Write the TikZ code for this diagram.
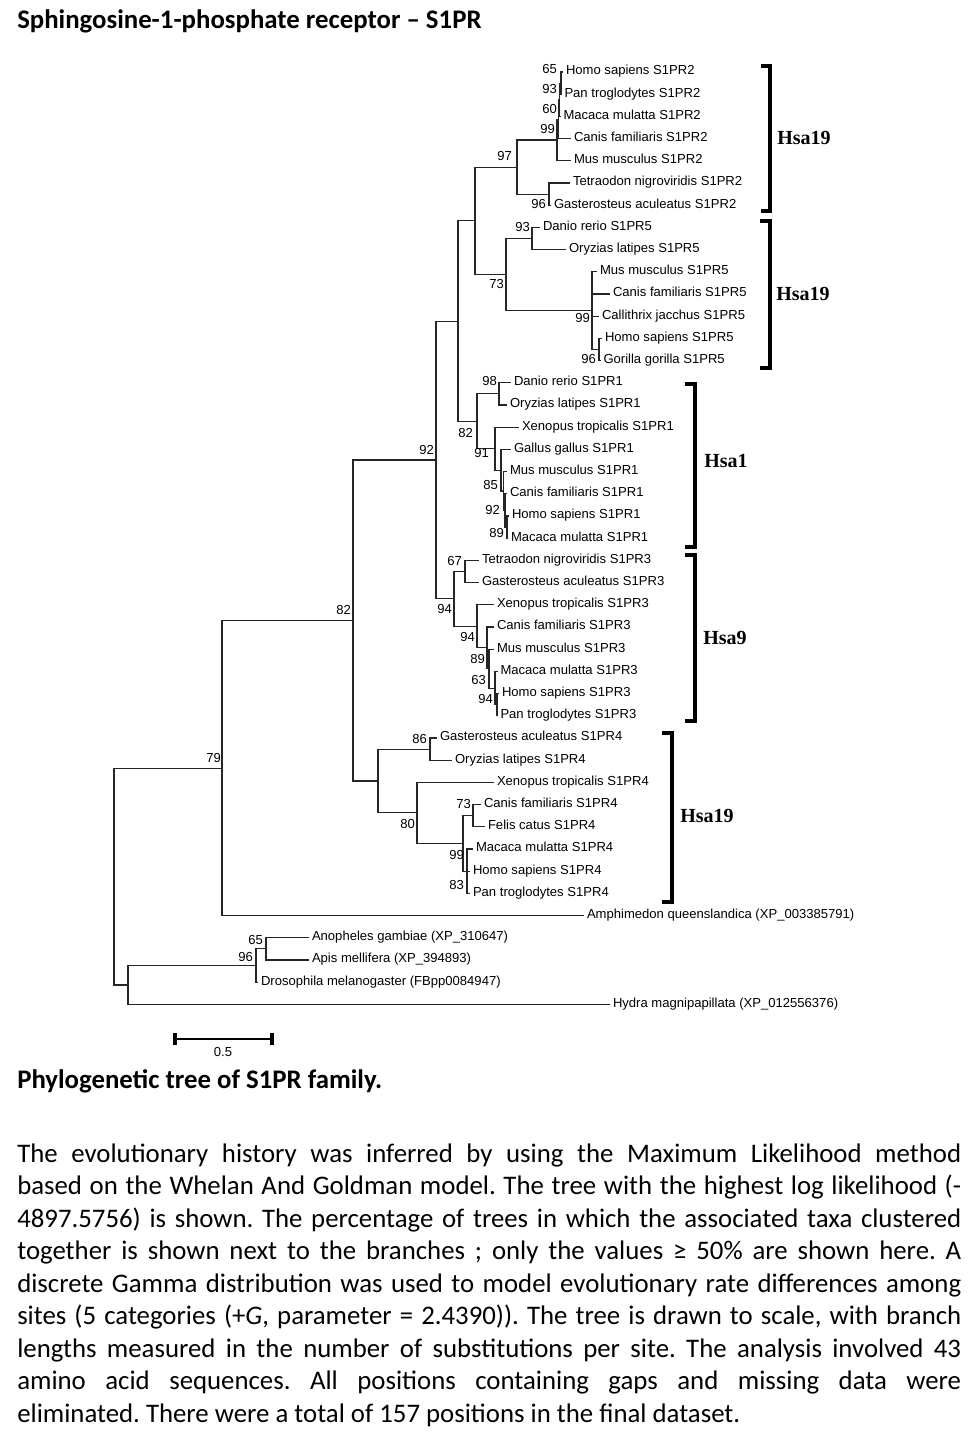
\documentclass[tikz,border=0pt]{standalone}
\usepackage{fontspec}
\setmainfont{Carlito}
\newfontfamily\treefont{Liberation Sans}
\newfontfamily\hsafont{Liberation Serif}
\frenchspacing
\begin{document}
\begin{tikzpicture}[x=0.75pt,y=-0.75pt,
  br/.style={line width=0.8pt, draw=black!85},
  leaf/.style={anchor=west, inner xsep=2.25pt, inner ysep=0pt, outer sep=0pt,
     font=\treefont\fontsize{9.8pt}{11pt}\selectfont, text height=6.8pt, text depth=2.6pt},
  bs/.style={anchor=east, inner sep=0pt, outer sep=0pt,
     font=\treefont\fontsize{9.8pt}{11pt}\selectfont, text height=6.8pt, text depth=2.6pt},
  hsa/.style={anchor=west, inner sep=0pt, font=\hsafont\bfseries\fontsize{15pt}{17pt}\selectfont},
  brk/.style={line width=2.3pt, miter limit=10},
  txt/.style={anchor=base west, inner sep=0pt, font=\fontsize{20.1pt}{24.4pt}\selectfont},
  btxt/.style={txt, font=\bfseries\fontsize{20.1pt}{24.4pt}\selectfont}
]
\fill[white] (0,0) rectangle (978,1447);
\useasboundingbox (0,0) rectangle (978,1447);

% ---------- leaves ----------
\node[leaf] (L1)  at (563,72)     {Homo sapiens S1PR2};
\node[leaf] (L2)  at (561.5,94.2) {Pan troglodytes S1PR2};
\node[leaf] (L3)  at (560.5,116.4){Macaca mulatta S1PR2};
\node[leaf] (L4)  at (571,138.6)  {Canis familiaris S1PR2};
\node[leaf] (L5)  at (571,160.8)  {Mus musculus S1PR2};
\node[leaf] (L6)  at (570,183)    {Tetraodon nigroviridis S1PR2};
\node[leaf] (L7)  at (551,205.2)  {Gasterosteus aculeatus S1PR2};
\node[leaf] (L8)  at (540,227.4)  {Danio rerio S1PR5};
\node[leaf] (L9)  at (566,249.6)  {Oryzias latipes S1PR5};
\node[leaf] (L10) at (597,271.8)  {Mus musculus S1PR5};
\node[leaf] (L11) at (610,294)    {Canis familiaris S1PR5};
\node[leaf] (L12) at (599,316.2)  {Callithrix jacchus S1PR5};
\node[leaf] (L13) at (602,338.4)  {Homo sapiens S1PR5};
\node[leaf] (L14) at (600.5,360.6){Gorilla gorilla S1PR5};
\node[leaf] (L15) at (511,382.8)  {Danio rerio S1PR1};
\node[leaf] (L16) at (507,405)    {Oryzias latipes S1PR1};
\node[leaf] (L17) at (519,427.2)  {Xenopus tropicalis S1PR1};
\node[leaf] (L18) at (511,449.4)  {Gallus gallus S1PR1};
\node[leaf] (L19) at (507,471.6)  {Mus musculus S1PR1};
\node[leaf] (L20) at (507,493.8)  {Canis familiaris S1PR1};
\node[leaf] (L21) at (509,516)    {Homo sapiens S1PR1};
\node[leaf] (L22) at (508,538.2)  {Macaca mulatta S1PR1};
\node[leaf] (L23) at (479,560.4)  {Tetraodon nigroviridis S1PR3};
\node[leaf] (L24) at (479,582.6)  {Gasterosteus aculeatus S1PR3};
\node[leaf] (L25) at (494,604.8)  {Xenopus tropicalis S1PR3};
\node[leaf] (L26) at (494,627)    {Canis familiaris S1PR3};
\node[leaf] (L27) at (494,649.2)  {Mus musculus S1PR3};
\node[leaf] (L28) at (497.5,671.4){Macaca mulatta S1PR3};
\node[leaf] (L29) at (499,693.6)  {Homo sapiens S1PR3};
\node[leaf] (L30) at (497.5,715.8){Pan troglodytes S1PR3};
\node[leaf] (L31) at (437,738)    {Gasterosteus aculeatus S1PR4};
\node[leaf] (L32) at (452,760.2)  {Oryzias latipes S1PR4};
\node[leaf] (L33) at (494,782.4)  {Xenopus tropicalis S1PR4};
\node[leaf] (L34) at (481,804.6)  {Canis familiaris S1PR4};
\node[leaf] (L35) at (485,826.8)  {Felis catus S1PR4};
\node[leaf] (L36) at (473,849)    {Macaca mulatta S1PR4};
\node[leaf] (L37) at (470,871.2)  {Homo sapiens S1PR4};
\node[leaf] (L38) at (470,893.4)  {Pan troglodytes S1PR4};
\node[leaf] (L39) at (584,915.6)  {Amphimedon queenslandica (XP\_003385791)};
\node[leaf] (L40) at (309,937.8)  {Anopheles gambiae (XP\_310647)};
\node[leaf] (L41) at (309,960)    {Apis mellifera (XP\_394893)};
\node[leaf] (L42) at (258,982.2)  {Drosophila melanogaster (FBpp0084947)};
\node[leaf] (L43) at (610,1004.4) {Hydra magnipapillata (XP\_012556376)};

% ---------- internal nodes ----------
\coordinate (n65)  at (561,83.1);
\coordinate (n93)  at (559.5,99.75);
\coordinate (n60)  at (558.5,119.2);
\coordinate (n99)  at (557,140);
\coordinate (n96)  at (549,194.1);
\coordinate (n97)  at (517,167.05);
\coordinate (n93b) at (532,238.5);
\coordinate (n96b) at (599,349.5);
\coordinate (n99b) at (592,310.65);
\coordinate (n73)  at (506,274.6);
\coordinate (n475) at (475,220.8);
\coordinate (n98)  at (499,393.9);
\coordinate (nD)   at (507,527.1);
\coordinate (nC)   at (505,510.45);
\coordinate (nB)   at (503.5,491);
\coordinate (nA)   at (501,470.2);
\coordinate (n91)  at (495,448.7);
\coordinate (n82a) at (477,421.3);
\coordinate (n458) at (458,321.05);
\coordinate (n67)  at (465,571.5);
\coordinate (nG)   at (497,704.7);
\coordinate (nF)   at (495,688.05);
\coordinate (nE)   at (489,668.6);
\coordinate (n89)  at (487,647.8);
\coordinate (n94b) at (477,626.3);
\coordinate (n94a) at (454,598.9);
\coordinate (n92)  at (436,460);
\coordinate (n86)  at (430,749.1);
\coordinate (n73c) at (473,815.7);
\coordinate (n83)  at (467,871.2);
\coordinate (n99c) at (463,843.45);
\coordinate (n80)  at (417,812.9);
\coordinate (n378) at (378,781);
\coordinate (n82)  at (353,620.5);
\coordinate (n79)  at (222,768.05);
\coordinate (n65i) at (266,948.9);
\coordinate (n96i) at (256,965.55);
\coordinate (nI)   at (128,985);
\coordinate (root) at (114,876.5);

% ---------- branches ----------
\draw[br] (n65) |- (L1.west);  \draw[br] (n65) |- (L2.west);
\draw[br] (n93) |- (n65);      \draw[br] (n93) |- (L3.west);
\draw[br] (n60) |- (n93);      \draw[br] (n60) |- (L4.west);
\draw[br] (n99) |- (n60);      \draw[br] (n99) |- (L5.west);
\draw[br] (n96) |- (L6.west);  \draw[br] (n96) |- (L7.west);
\draw[br] (n97) |- (n99);      \draw[br] (n97) |- (n96);
\draw[br] (n93b) |- (L8.west); \draw[br] (n93b) |- (L9.west);
\draw[br] (n96b) |- (L13.west);\draw[br] (n96b) |- (L14.west);
\draw[br] (n99b) |- (L10.west);\draw[br] (n99b) |- (L11.west);
\draw[br] (n99b) |- (L12.west);\draw[br] (n99b) |- (n96b);
\draw[br] (n73) |- (n93b);     \draw[br] (n73) |- (n99b);
\draw[br] (n475) |- (n97);     \draw[br] (n475) |- (n73);
\draw[br] (n98) |- (L15.west); \draw[br] (n98) |- (L16.west);
\draw[br] (nD) |- (L21.west);  \draw[br] (nD) |- (L22.west);
\draw[br] (nC) |- (L20.west);  \draw[br] (nC) |- (nD);
\draw[br] (nB) |- (L19.west);  \draw[br] (nB) |- (nC);
\draw[br] (nA) |- (L18.west);  \draw[br] (nA) |- (nB);
\draw[br] (n91) |- (L17.west); \draw[br] (n91) |- (nA);
\draw[br] (n82a) |- (n98);     \draw[br] (n82a) |- (n91);
\draw[br] (n458) |- (n475);    \draw[br] (n458) |- (n82a);
\draw[br] (n67) |- (L23.west); \draw[br] (n67) |- (L24.west);
\draw[br] (nG) |- (L29.west);  \draw[br] (nG) |- (L30.west);
\draw[br] (nF) |- (L28.west);  \draw[br] (nF) |- (nG);
\draw[br] (nE) |- (L27.west);  \draw[br] (nE) |- (nF);
\draw[br] (n89) |- (L26.west); \draw[br] (n89) |- (nE);
\draw[br] (n94b) |- (L25.west);\draw[br] (n94b) |- (n89);
\draw[br] (n94a) |- (n67);     \draw[br] (n94a) |- (n94b);
\draw[br] (n92) |- (n458);     \draw[br] (n92) |- (n94a);
\draw[br] (n86) |- (L31.west); \draw[br] (n86) |- (L32.west);
\draw[br] (n73c) |- (L34.west);\draw[br] (n73c) |- (L35.west);
\draw[br] (n83) |- (L36.west); \draw[br] (n83) |- (L37.west); \draw[br] (n83) |- (L38.west);
\draw[br] (n99c) |- (n73c);    \draw[br] (n99c) |- (n83);
\draw[br] (n80) |- (L33.west); \draw[br] (n80) |- (n99c);
\draw[br] (n378) |- (n86);     \draw[br] (n378) |- (n80);
\draw[br] (n82) |- (n92);      \draw[br] (n82) |- (n378);
\draw[br] (n79) |- (n82);      \draw[br] (n79) |- (L39.west);
\draw[br] (n65i) |- (L40.west);\draw[br] (n65i) |- (L41.west);
\draw[br] (n96i) |- (n65i);    \draw[br] (n96i) |- (L42.west);
\draw[br] (nI) |- (n96i);      \draw[br] (nI) |- (L43.west);
\draw[br] (root) |- (n79);     \draw[br] (root) |- (nI);

% ---------- bootstrap values ----------
\node[bs] (b1)  at (557,71)  {65};
\node[bs] (b2)  at (557,91)  {93};
\node[bs] (b3)  at (557,111) {60};
\node[bs] (b4)  at (555,131) {99};
\node[bs] (b5)  at (512,158) {97};
\node[bs] (b6)  at (546,206) {96};
\node[bs] (b7)  at (530,229) {93};
\node[bs] (b8)  at (504,286) {73};
\node[bs] (b9)  at (590,320) {99};
\node[bs] (b10) at (596,361) {96};
\node[bs] (b11) at (497,383) {98};
\node[bs] (b12) at (473,435) {82};
\node[bs] (b13) at (489,455) {91};
\node[bs] (b14) at (498,487) {85};
\node[bs] (b15) at (500,512) {92};
\node[bs] (b16) at (504,535) {89};
\node[bs] (b17) at (462,563) {67};
\node[bs] (b18) at (452,611) {94};
\node[bs] (b19) at (475,639) {94};
\node[bs] (b20) at (485,661) {89};
\node[bs] (b21) at (486,682) {63};
\node[bs] (b22) at (493,701) {94};
\node[bs] (b23) at (427,741) {86};
\node[bs] (b24) at (415,826) {80};
\node[bs] (b25) at (471,806) {73};
\node[bs] (b26) at (464,857) {99};
\node[bs] (b27) at (464,887) {83};
\node[bs] (b28) at (434,452) {92};
\node[bs] (b29) at (351,612) {82};
\node[bs] (b30) at (221,760) {79};
\node[bs] (b31) at (263,942) {65};
\node[bs] (b32) at (253,959) {96};

% ---------- brackets and chromosome labels ----------
\draw[brk] (761,66) -- (770,66) -- (770,211) -- (761,211);
\draw[brk] (760,221) -- (770,221) -- (770,368) -- (760,368);
\draw[brk] (685,384) -- (695,384) -- (695,547) -- (685,547);
\draw[brk] (685,555) -- (695,555) -- (695,721) -- (685,721);
\draw[brk] (662,733) -- (672,733) -- (672,902) -- (662,902);
\node[hsa] (h1) at (777,138) {Hsa19};
\node[hsa] (h2) at (776,294) {Hsa19};
\node[hsa] (h3) at (704,461) {Hsa1};
\node[hsa] (h4) at (703,638) {Hsa9};
\node[hsa] (h5) at (680,816) {Hsa19};

% ---------- scale bar ----------
\coordinate (sb1) at (175,1039);
\coordinate (sb2) at (272,1039);
\draw[line width=2.2pt] (sb1) -- (sb2);
\draw[line width=3pt] ([yshift=4.5pt]sb1) -- ([yshift=-4.5pt]sb1);
\draw[line width=3pt] ([yshift=4.5pt]sb2) -- ([yshift=-4.5pt]sb2);
\node[bs, anchor=center] (sbl) at (223,1054) {0.5};

% ---------- texts ----------
\node[btxt] (title) at (17,28.5) {Sphingosine-1-phosphate receptor – S1PR};
\node[btxt] (cap) at (17,1088) {Phylogenetic tree of S1PR family.};
\node[txt] (p1) at (17,1162) {\makebox[708pt][s]{The evolutionary history was inferred by using the Maximum Likelihood method}};
\node[txt] (p2) at (17,1194.5) {\makebox[708pt][s]{based on the Whelan And Goldman model. The tree with the highest log likelihood (-}};
\node[txt] (p3) at (17,1227) {\makebox[708pt][s]{4897.5756) is shown. The percentage of trees in which the associated taxa clustered}};
\node[txt] (p4) at (17,1259.5) {\makebox[708pt][s]{together is shown next to the branches ; only the values ≥ 50\% are shown here. A}};
\node[txt] (p5) at (17,1292) {\makebox[708pt][s]{discrete Gamma distribution was used to model evolutionary rate differences among}};
\node[txt] (p6) at (17,1324.5) {\makebox[708pt][s]{sites (5 categories (+\textit{G}, parameter = 2.4390)). The tree is drawn to scale, with branch}};
\node[txt] (p7) at (17,1357) {\makebox[708pt][s]{lengths measured in the number of substitutions per site. The analysis involved 43}};
\node[txt] (p8) at (17,1389.5) {\makebox[708pt][s]{amino acid sequences. All positions containing gaps and missing data were}};
\node[txt] (p9) at (17,1422) {eliminated. There were a total of 157 positions in the final dataset.};
\end{tikzpicture}
\end{document}
